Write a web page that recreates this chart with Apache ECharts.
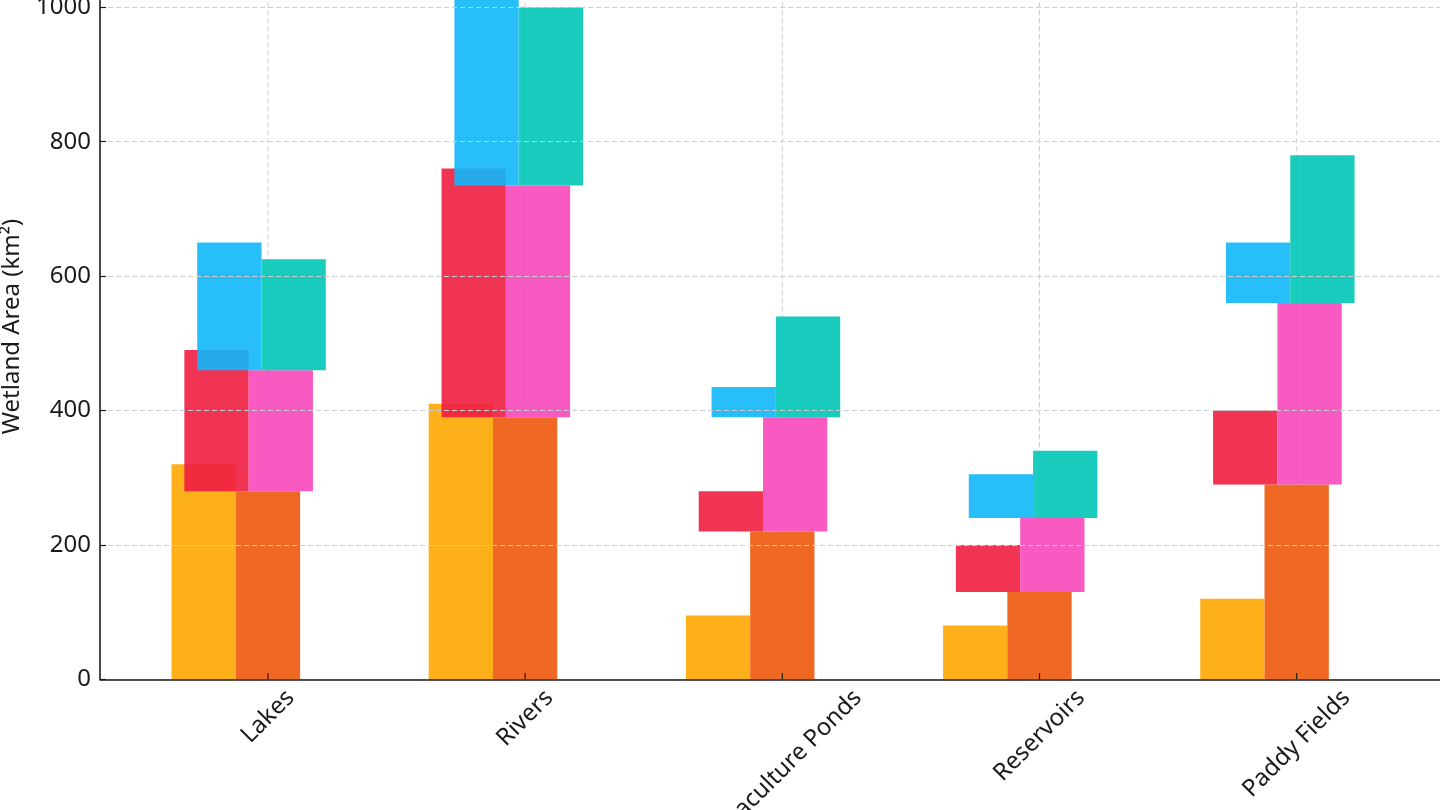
<!DOCTYPE html>
<html>
<head>
    <meta charset="utf-8">
    <title>Wetland Area</title>
    <script src="https://cdn.jsdelivr.net/npm/echarts@6/dist/echarts.min.js"></script>
    <style>
        html, body { margin: 0; padding: 0; background: #fff; }
        #chart { width: 1440px; height: 810px; }
    </style>
</head>
<body>
<div id="chart"></div>
<script type="text/javascript">
    var categories = ['Lakes', 'Rivers', 'Aquaculture Ponds', 'Reservoirs', 'Paddy Fields'];
    // bottom layer (both start at 0)
    var lowerA = [320, 410, 95, 80, 120];
    var lowerB = [280, 390, 220, 130, 290];
    // middle layer, sits on top of lowerB
    var middleA = [210, 370, 60, 70, 110];
    var middleB = [180, 345, 170, 110, 270];
    // top layer, sits on top of lowerB + middleB
    var upperA = [190, 285, 45, 65, 90];
    var upperB = [165, 265, 150, 100, 220];
    var yTicks = [0, 200, 400, 600, 800, 1000];

    var FONT = '"Noto Sans", "Open Sans", sans-serif';
    var FS = 24;
    var TEXT = '#1a1a1a';
    var GRID = '#cdcdd6';
    var BAR_W = 0.25;
    var X_MIN = -0.653, X_MAX = 4.635, Y_MAX = 1050;

    var zeros = categories.map(function () { return 0; });
    var middleBase = lowerB.slice();
    var upperBase = lowerB.map(function (v, i) { return v + middleB[i]; });

    // draw order matters: later layers overlap earlier ones
    var layers = [
        {name: 'lowerA', vals: lowerA, base: zeros, off: -0.25, color: '#FDA700'},
        {name: 'lowerB', vals: lowerB, base: zeros, off: 0, color: '#EE590C'},
        {name: 'middleA', vals: middleA, base: middleBase, off: -0.2, color: '#F01D41'},
        {name: 'middleB', vals: middleB, base: middleBase, off: 0.05, color: '#F748BB'},
        {name: 'upperA', vals: upperA, base: upperBase, off: -0.15, color: '#11B7F9'},
        {name: 'upperB', vals: upperB, base: upperBase, off: 0.1, color: '#00C6B7'}
    ];

    function barRender(color, off) {
        return function (params, api) {
            var i = api.value(0);
            var p0 = api.coord([i + off - BAR_W / 2, api.value(1)]);
            var p1 = api.coord([i + off + BAR_W / 2, api.value(2)]);
            return {
                type: 'rect',
                shape: {x: p0[0], y: p1[1], width: p1[0] - p0[0], height: p0[1] - p1[1]},
                style: {fill: color, opacity: 0.9}
            };
        };
    }

    var series = layers.map(function (l) {
        return {
            name: l.name,
            type: 'custom',
            z: 3,
            renderItem: barRender(l.color, l.off),
            encode: {x: 0, y: [1, 2]},
            data: l.vals.map(function (v, i) { return [i, l.base[i], l.base[i] + v]; })
        };
    });

    var catIdx = categories.map(function (c, i) { return [i, 0]; });

    // vertical grid lines at each category
    series.unshift({
        type: 'custom',
        z: 1,
        silent: true,
        encode: {x: 0, y: 1},
        data: catIdx,
        renderItem: function (params, api) {
            var p = api.coord([api.value(0), 0]);
            var top = api.coord([api.value(0), Y_MAX]);
            return {
                type: 'line',
                shape: {x1: p[0], y1: p[1], x2: p[0], y2: top[1]},
                style: {stroke: GRID, lineWidth: 1, lineDash: [5, 3]}
            };
        }
    });

    // small inward ticks on the x axis
    series.push({
        type: 'custom',
        z: 6,
        silent: true,
        encode: {x: 0, y: 1},
        data: catIdx,
        renderItem: function (params, api) {
            var p = api.coord([api.value(0), 0]);
            return {
                type: 'line',
                shape: {x1: p[0], y1: p[1], x2: p[0], y2: p[1] - 6},
                style: {stroke: TEXT, lineWidth: 1.2}
            };
        }
    });

    // rotated category labels, box centred under the tick
    var ctx = document.createElement('canvas').getContext('2d');
    ctx.font = FS + 'px ' + FONT;
    series.push({
        type: 'custom',
        z: 6,
        silent: true,
        clip: false,
        encode: {x: 0, y: 1},
        data: catIdx,
        renderItem: function (params, api) {
            var i = api.value(0);
            var p = api.coord([i, 0]);
            var w = ctx.measureText(categories[i]).width;
            var half = Math.SQRT1_2 * (w + FS * 1.15) / 2;
            return {
                type: 'text',
                x: p[0],
                y: p[1] + 5 + half,
                rotation: Math.PI / 4,
                style: {
                    text: categories[i],
                    font: FS + 'px ' + FONT,
                    fill: TEXT,
                    align: 'center',
                    verticalAlign: 'middle'
                }
            };
        }
    });

    var chart = echarts.init(document.getElementById('chart'));
    chart.setOption({
        backgroundColor: '#fff',
        animation: false,
        grid: {
            left: 100, right: -20, top: -26.3, bottom: 130.7,
            containLabel: false, outerBoundsMode: 'none'
        },
        xAxis: {
            type: 'value',
            position: 'bottom',
            min: X_MIN,
            max: X_MAX,
            z: 5,
            axisLine: {show: true, onZero: false, lineStyle: {color: TEXT, width: 1.6}},
            axisTick: {show: false},
            axisLabel: {show: false},
            splitLine: {show: false}
        },
        yAxis: {
            type: 'value',
            position: 'left',
            z: 5,
            min: yTicks[0],
            max: Y_MAX,
            interval: yTicks[1] - yTicks[0],
            name: 'Wetland Area (km²)',
            nameLocation: 'middle',
            nameGap: 76,
            nameTextStyle: {fontSize: FS, color: TEXT, fontFamily: FONT},
            axisLine: {show: true, onZero: false, lineStyle: {color: TEXT, width: 1.6}},
            axisTick: {show: true, inside: true, length: 6, lineStyle: {color: TEXT, width: 1.2}},
            axisLabel: {
                fontSize: FS, color: TEXT, fontFamily: FONT, margin: 9,
                formatter: function (v) { return String(v); }
            },
            splitLine: {show: true, lineStyle: {color: GRID, width: 1, type: [5, 3]}}
        },
        series: series
    });
</script>
</body>
</html>
